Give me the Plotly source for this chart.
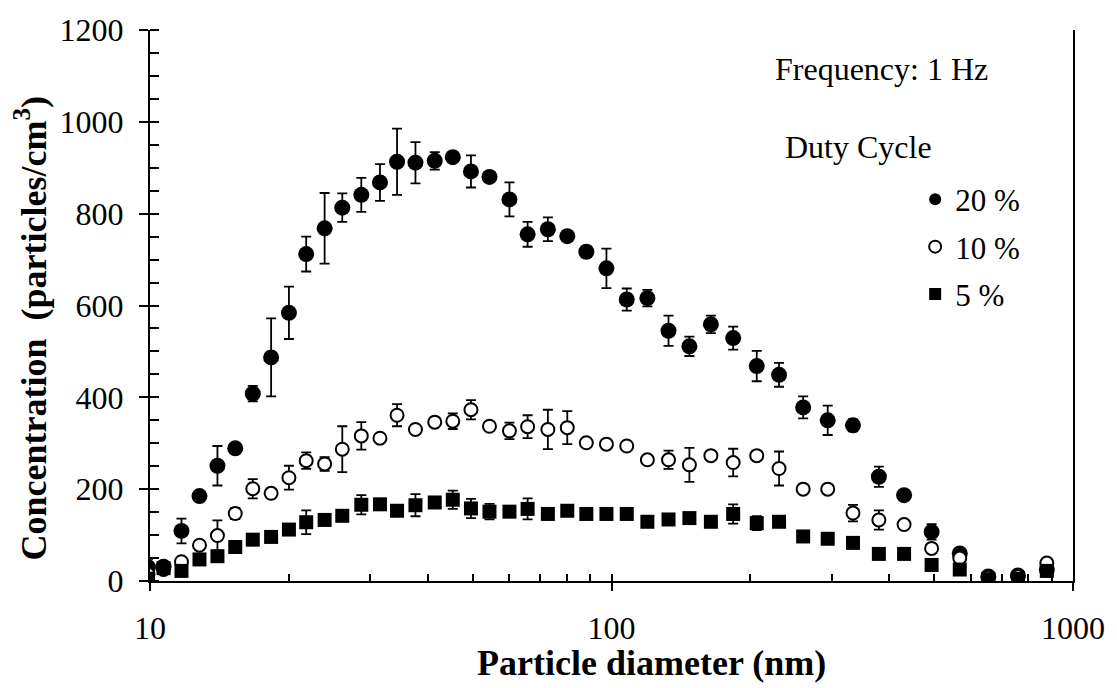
import plotly.graph_objects as go

# Particle diameter bins (nm)
diameter_nm = [9.9, 10.7, 11.7, 12.8, 14.0, 15.3, 16.7, 18.3, 20.0, 21.8, 23.9, 26.1,
               28.7, 31.5, 34.3, 37.6, 41.4, 45.3, 49.6, 54.4, 60.1, 65.8, 72.8, 80.2,
               88.2, 97.5, 107.9, 119.6, 132.9, 147.5, 164.2, 183.5, 206.4, 230.7, 260.2,
               294.1, 333.6, 379.6, 430.5, 493.9, 568.4, 655.4, 759.8, 877.6]

# Number concentration (particles/cm3) and error half-widths for each duty cycle
conc_20 = [30, 31, 109, 185, 251, 289, 408, 487, 584, 712, 768, 813, 841, 868, 913, 911,
           915, 923, 892, 880, 831, 755, 766, 751, 717, 681, 613, 616, 545, 511, 559, 529,
           468, 449, 378, 350, 339, 227, 187, 107, 60, 10, 12, 25]
err_20 = [18, 0, 27, 5, 43, 8, 17, 85, 57, 38, 77, 31, 37, 40, 72, 45, 19, 0, 35, 5, 37,
          27, 26, 5, 12, 43, 24, 18, 33, 21, 19, 25, 33, 26, 24, 32, 13, 22, 3, 17, 11, 3,
          3, 3]

conc_10 = [15, 25, 42, 78, 99, 147, 201, 191, 225, 262, 255, 287, 316, 311, 361, 330, 346,
           348, 373, 337, 327, 336, 330, 334, 301, 298, 294, 264, 264, 253, 273, 258, 273,
           245, 200, 200, 148, 133, 123, 71, 50, 8, 10, 39]
err_10 = [10, 0, 0, 5, 33, 12, 21, 10, 26, 18, 15, 50, 30, 8, 24, 5, 8, 17, 21, 5, 18, 25,
          43, 36, 5, 5, 5, 8, 20, 37, 5, 30, 10, 37, 8, 3, 18, 21, 5, 5, 8, 0, 0, 3]

conc_5 = [5, 28, 22, 47, 54, 74, 90, 96, 112, 128, 133, 142, 166, 167, 153, 165, 171, 177,
          158, 151, 151, 157, 146, 153, 146, 146, 146, 129, 134, 137, 129, 146, 126, 129,
          97, 92, 83, 59, 59, 35, 25, 4, 5, 22]
err_5 = [3, 0, 0, 0, 0, 0, 0, 0, 0, 26, 10, 10, 21, 12, 10, 24, 8, 20, 21, 17, 5, 23, 5, 5,
         0, 0, 0, 0, 12, 5, 0, 21, 15, 5, 0, 0, 0, 0, 0, 0, 0, 0, 0, 0]

series_names = ["20 %", "10 %", "5 %"]
x_tick_vals = [10, 100, 1000]
x_tick_text = ["10", "100", "1000"]
x_minor_vals = [20, 30, 40, 50, 60, 70, 80, 90, 200, 300, 400, 500, 600, 700, 800, 900]
y_tick_vals = [0, 200, 400, 600, 800, 1000, 1200]

FONT = "Liberation Serif, Times New Roman, serif"

marker_styles = [
    dict(symbol="circle", size=16, color="black", line=dict(width=0)),
    dict(symbol="circle", size=13, color="white", line=dict(color="black", width=2)),
    dict(symbol="square", size=14, color="black", line=dict(width=0)),
]

fig = go.Figure()
for name, yv, ev, mk in zip(series_names, [conc_20, conc_10, conc_5],
                            [err_20, err_10, err_5], marker_styles):
    fig.add_trace(go.Scatter(
        x=diameter_nm, y=yv, mode="markers", name=name, legendgroup=name,
        marker=mk,
        error_y=dict(type="data", array=ev, visible=True, color="black",
                     thickness=1.8, width=5),
    ))

axis_font = dict(family=FONT, size=32, color="black")

fig.update_layout(
    width=1117, height=688,
    margin=dict(l=150, r=40, t=25, b=107),
    paper_bgcolor="white", plot_bgcolor="white",
    font=dict(family=FONT, color="black"),
    showlegend=True,
    legend=dict(
        x=0.829, y=0.741, xanchor="left", yanchor="top",
        font=dict(family=FONT, size=31, color="black"),
        itemsizing="constant", traceorder="grouped", tracegroupgap=4,
        bgcolor="rgba(0,0,0,0)", borderwidth=0,
    ),
    xaxis=dict(
        type="log", range=[1, 3], showgrid=False, zeroline=False,
        showline=True, linecolor="black", linewidth=2,
        ticks="outside", ticklen=8, tickwidth=2, tickcolor="black",
        tickvals=x_tick_vals, ticktext=x_tick_text, tickfont=axis_font,
        ticklabelstandoff=10,
        minor=dict(ticks="inside", ticklen=7, tickwidth=2, tickcolor="black",
                   tickvals=x_minor_vals, showgrid=False),
    ),
    xaxis2=dict(
        type="log", range=[1, 3], overlaying="x", anchor="y", side="bottom",
        showgrid=False, zeroline=False, showline=False,
        ticks="inside", ticklen=7, tickwidth=2, tickcolor="black",
        tickvals=x_tick_vals, showticklabels=False,
    ),
    yaxis=dict(
        range=[0, 1200], showgrid=False, zeroline=False,
        showline=True, linecolor="black", linewidth=2, mirror=True,
        ticks="outside", ticklen=9, tickwidth=2, tickcolor="black",
        tickvals=y_tick_vals, tickfont=axis_font, ticklabelstandoff=9,
        minor=dict(ticks="inside", ticklen=9, tickwidth=2, tickcolor="black",
                   dtick=50, showgrid=False),
    ),
    yaxis2=dict(
        range=[0, 1200], overlaying="y", anchor="x", side="left",
        showgrid=False, zeroline=False, showline=False,
        ticks="inside", ticklen=9, tickwidth=2, tickcolor="black",
        tickvals=y_tick_vals, showticklabels=False,
    ),
)

# Invisible helper trace so the overlay axes carry the crossing major ticks
fig.add_trace(go.Scatter(x=[diameter_nm[1]], y=[conc_5[1]], xaxis="x2", yaxis="y2",
                         mode="markers", marker=dict(opacity=0), showlegend=False,
                         hoverinfo="skip"))

fig.add_annotation(text="Frequency: 1 Hz", xref="paper", yref="paper",
                   x=0.792, y=0.929, xanchor="center", yanchor="middle",
                   showarrow=False, font=dict(family=FONT, size=32, color="black"))
fig.add_annotation(text="Duty Cycle", xref="paper", yref="paper",
                   x=0.768, y=0.788, xanchor="center", yanchor="middle",
                   showarrow=False, font=dict(family=FONT, size=32, color="black"))
fig.add_annotation(text="<b>Particle diameter (nm)</b>", xref="paper", yref="paper",
                   x=0.543, y=-0.148, xanchor="center", yanchor="middle",
                   showarrow=False, font=dict(family=FONT, size=36, color="black"))
fig.add_annotation(text="<b>Concentration  (particles/cm<sup>3</sup>)</b>",
                   xref="paper", yref="paper", x=-0.129, y=0.46,
                   xanchor="center", yanchor="middle", textangle=-90,
                   showarrow=False, font=dict(family=FONT, size=36, color="black"))

fig.write_html("out.html")
